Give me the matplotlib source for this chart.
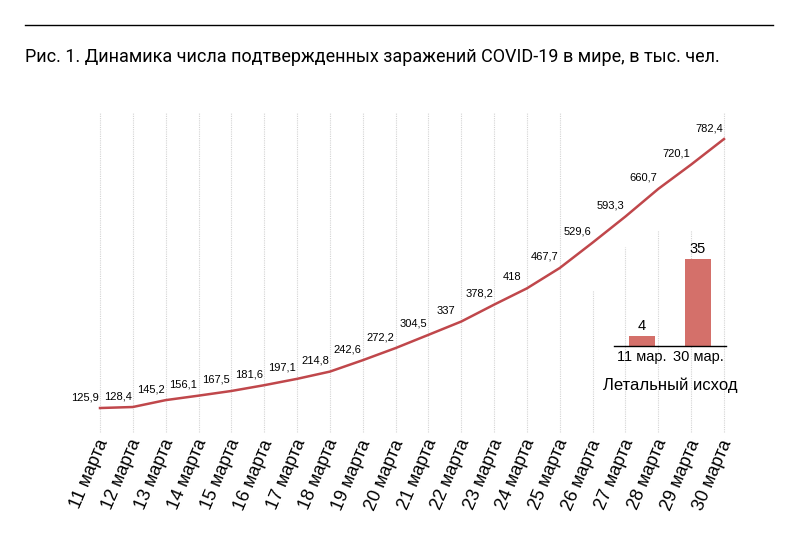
import matplotlib.pyplot as plt

# данные
days = ["11 марта", "12 марта", "13 марта", "14 марта", "15 марта", "16 марта",
        "17 марта", "18 марта", "19 марта", "20 марта", "21 марта", "22 марта",
        "23 марта", "24 марта", "25 марта", "26 марта", "27 марта", "28 марта",
        "29 марта", "30 марта"]
cases = [125.9, 128.4, 145.2, 156.1, 167.5, 181.6, 197.1, 214.8, 242.6, 272.2,
         304.5, 337, 378.2, 418, 467.7, 529.6, 593.3, 660.7, 720.1, 782.4]
death_labels = ["11 мар.", "30 мар."]
deaths = [4, 35]

plt.rcParams['font.family'] = ['Liberation Sans', 'DejaVu Sans']

red = '#c0474b'
bar_red = '#d4706a'

W, H = 800, 535
fig = plt.figure(figsize=(W / 100, H / 100), dpi=100)

# линия сверху и заголовок
fig.add_artist(plt.Line2D([25 / W, 773 / W], [1 - 25 / H, 1 - 25 / H], color='black', lw=1))
fig.text(25 / W, 1 - 57 / H, "Рис. 1. Динамика числа подтвержденных заражений COVID-19 в мире, в тыс. чел.",
         family=['Roboto', 'DejaVu Sans'], fontsize=13, va='center', ha='left')

ax = fig.add_axes([100 / W, 1 - 432 / H, 624 / W, 320 / H])
ax.set_xlim(0, 19)
ax.set_ylim(67.4, 848.3)
ax.axis('off')

x = list(range(len(days)))
ymin, ymax = ax.get_ylim()
# обрезка сетки возле вставки
tops = [ymax] * len(days)
tops[15] = 413.7
tops[16] = 518.6
tops[17] = 560
tops[18] = 560
for i in x:
    ax.plot([i, i], [ymin, tops[i]], color='#d4d4d4', lw=0.8, ls=(0, (1, 1)), clip_on=False, zorder=1)

ax.plot(x, cases, color=red, lw=1.8, clip_on=False, zorder=3)
for i, v in zip(x, cases):
    lab = f"{v:g}".replace('.', ',')
    ax.annotate(lab, (i, v), xytext=(-15, 11), textcoords='offset pixels',
                ha='center', va='center', fontsize=8, color='black')

for i, d in zip(x, days):
    ax.text(i + 0.12, ymin - 20, d, rotation=67, rotation_mode='anchor',
            ha='right', va='center', fontsize=13, color='black', clip_on=False)

# вставка: летальный исход
ins = fig.add_axes([614 / W, 1 - 346 / H, 112 / W, 99.6 / H])
ins.bar([0, 1], deaths, width=0.45, color=bar_red)
ins.set_xlim(-0.5, 1.5)
ins.set_ylim(0, 40)
for s in ['top', 'right', 'left']:
    ins.spines[s].set_visible(False)
ins.spines['bottom'].set_linewidth(1)
ins.set_yticks([])
ins.set_xticks([0, 1])
ins.set_xticklabels(death_labels, fontsize=10.5)
ins.tick_params(axis='x', length=0, pad=3)
ins.patch.set_alpha(0)
for i, v in enumerate(deaths):
    ins.annotate(str(v), (i, v), xytext=(0, 3), textcoords='offset pixels',
                 ha='center', va='bottom', fontsize=10.5)
fig.text(670 / W, 1 - 385 / H, "Летальный исход", fontsize=12, ha='center', va='center')

fig.savefig('out.png', dpi=100)
